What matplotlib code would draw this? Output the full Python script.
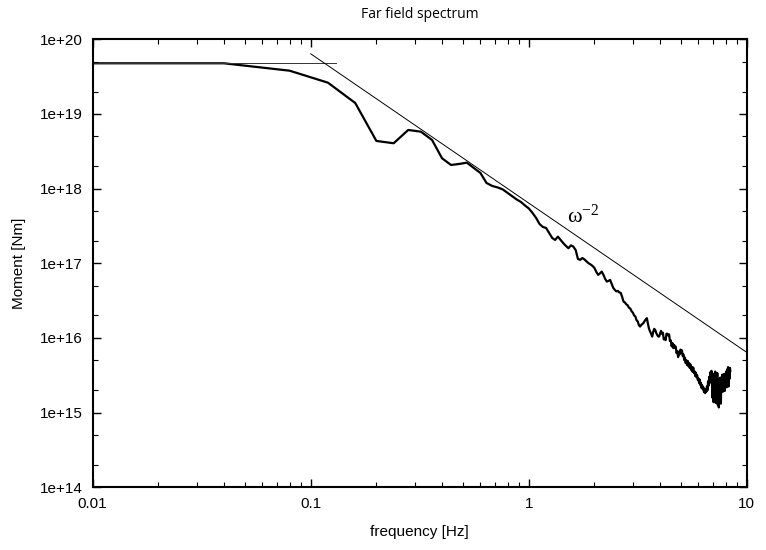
import numpy as np
import matplotlib
matplotlib.use("Agg")
import matplotlib.pyplot as plt
from matplotlib.ticker import FixedLocator, FixedFormatter, LogLocator, NullFormatter

df_hz = 0.04
log_moment = [
    19.679, 19.580, 19.419, 19.147, 18.639, 18.608, 18.786, 18.763, 18.652, 18.407,
    18.317, 18.331, 18.348, 18.277, 18.210, 18.076, 18.036, 18.016, 17.989, 17.942,
    17.896, 17.855, 17.822, 17.775, 17.735, 17.675, 17.608, 17.527, 17.487, 17.474,
    17.407, 17.340, 17.313, 17.357, 17.313, 17.269, 17.233, 17.202, 17.240, 17.224,
    17.179, 17.059, 17.046, 17.071, 17.052, 17.025, 17.001, 16.985, 16.965, 16.938,
    16.885, 16.845, 16.865, 16.889, 16.845, 16.791, 16.755, 16.764, 16.778, 16.724,
    16.671, 16.644, 16.624, 16.631, 16.610, 16.604, 16.550, 16.487, 16.475, 16.450,
    16.438, 16.405, 16.395, 16.358, 16.340, 16.303, 16.288, 16.238, 16.221, 16.170,
    16.153, 16.175, 16.189, 16.202, 16.229, 16.249, 16.265, 16.189, 16.122, 16.086,
    16.055, 16.019, 16.082, 16.122, 16.108, 16.068, 16.041, 16.021, 16.019, 16.055,
    16.095, 16.056, 16.071, 15.981, 15.995, 15.971, 16.058, 16.055, 16.034, 16.048,
    15.958, 15.968, 15.888, 15.931, 15.864, 15.908, 15.865, 15.884, 15.797, 15.820,
    15.744, 15.817, 15.780, 15.844, 15.798, 15.834, 15.757, 15.780, 15.704, 15.737,
    15.664, 15.700, 15.637, 15.693, 15.620, 15.663, 15.597, 15.643, 15.570, 15.613,
    15.547, 15.603, 15.530, 15.553, 15.489, 15.536, 15.473, 15.499, 15.436, 15.459,
    15.396, 15.442, 15.369, 15.399, 15.329, 15.365, 15.312, 15.339, 15.275, 15.312,
    15.262, 15.308, 15.28, 15.35, 15.30, 15.42, 15.36, 15.48, 15.40, 15.54,
    15.45, 15.56, 15.38, 15.20, 15.52, 15.14, 15.45, 15.25, 15.55, 15.13,
    15.50, 15.30, 15.53, 15.10, 15.45, 15.07, 15.40, 15.20, 15.47, 15.12,
    15.44, 15.30, 15.51, 15.28, 15.48, 15.33, 15.52, 15.29, 15.46, 15.36,
    15.55, 15.34, 15.58, 15.40, 15.61, 15.35, 15.57, 15.45, 15.60, 15.56,
]
freq = np.concatenate([[0.01], df_hz * np.arange(1, len(log_moment) + 1)])
moment = 10.0 ** np.concatenate([[log_moment[0]], log_moment])

# low-frequency plateau and omega^-2 fall-off
plateau_freq = [0.01, 0.13]
plateau_moment = [10.0 ** log_moment[0]] * 2
decay_freq = [0.1, 10.0]
decay_moment = [6.4e19, 6.4e15]

x_ticks = [0.01, 0.1, 1, 10]
x_labels = ["0.01", "0.1", "1", "10"]
y_ticks = [1e14, 1e15, 1e16, 1e17, 1e18, 1e19, 1e20]
y_labels = ["1e+14", "1e+15", "1e+16", "1e+17", "1e+18", "1e+19", "1e+20"]

plt.rcParams["font.family"] = ["Liberation Sans", "DejaVu Sans"]
plt.rcParams["mathtext.fontset"] = "custom"
plt.rcParams["mathtext.rm"] = "Liberation Serif"
plt.rcParams["mathtext.it"] = "Liberation Serif:italic"

fig = plt.figure(figsize=(7.66, 5.5), dpi=100)
ax = fig.add_axes([0.121, 0.114, 0.854, 0.8145])

ax.plot(freq, moment, color="black", lw=1.6)
ax.plot(plateau_freq, plateau_moment, color="#333333", lw=0.7)
ax.plot(decay_freq, decay_moment, color="black", lw=0.7)

ax.set_xscale("log")
ax.set_yscale("log")
ax.set_xlim(0.01, 10)
ax.set_ylim(1e14, 1e20)

ax.xaxis.set_major_locator(FixedLocator(x_ticks))
ax.xaxis.set_major_formatter(FixedFormatter(x_labels))
ax.yaxis.set_major_locator(FixedLocator(y_ticks))
ax.yaxis.set_major_formatter(FixedFormatter(y_labels))
ax.xaxis.set_minor_locator(LogLocator(base=10, subs=np.arange(2, 10), numticks=20))
ax.yaxis.set_minor_locator(LogLocator(base=10, subs=(2.0, 5.0), numticks=20))
ax.xaxis.set_minor_formatter(NullFormatter())
ax.yaxis.set_minor_formatter(NullFormatter())

ax.tick_params(which="both", direction="in", top=True, right=True, labelsize=11)
ax.tick_params(which="major", length=6, width=1, pad=7)
ax.tick_params(which="minor", length=3.5, width=0.8)
for sp in ax.spines.values():
    sp.set_linewidth(1.5)

ax.text(1.50, 3.5e17, r"$\mathrm{\omega}^{\mathrm{-2}}$", fontsize=16,
        ha="left", va="baseline")

ax.set_title("Far field spectrum", fontsize=10, family="Open Sans", pad=15)
ax.set_xlabel("frequency [Hz]", fontsize=11, labelpad=10)
ax.set_ylabel("Moment [Nm]", fontsize=11, labelpad=10)

fig.savefig("out.png", dpi=100)
